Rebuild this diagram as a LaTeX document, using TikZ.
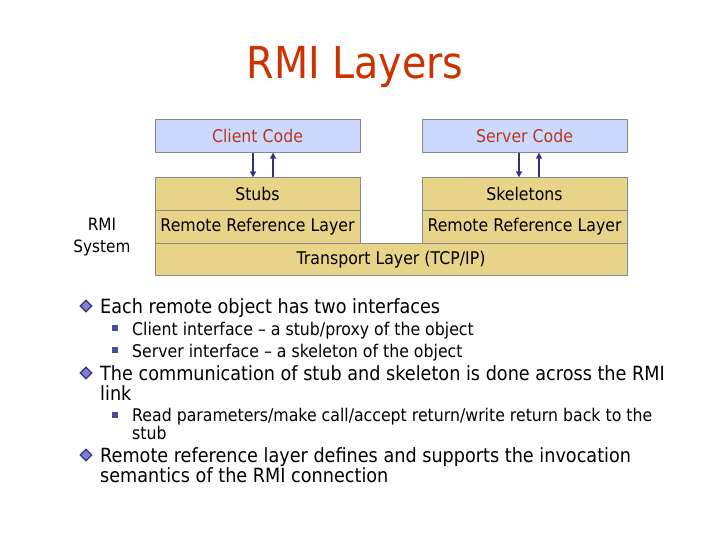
\documentclass[tikz,border=0pt]{standalone}
\usepackage{fontspec}
\setmainfont{DejaVu Sans}[FakeStretch=0.9]
\usetikzlibrary{shapes.geometric,arrows.meta}
\definecolor{titlered}{HTML}{CC3300}
\definecolor{codered}{HTML}{B8371C}
\definecolor{boxblue}{HTML}{CCD9FF}
\definecolor{boxyellow}{HTML}{E8D488}
\definecolor{boxline}{HTML}{8A8A8A}
\definecolor{navy}{HTML}{333380}
\definecolor{bulletnavy}{HTML}{4A4AA0}
\definecolor{gemfill}{HTML}{8080D0}
\tikzset{
  layerbox/.style={draw=boxline, line width=0.8pt, minimum width=205pt, minimum height=32.5pt, inner sep=0pt, font=\fontsize{17.5}{19}\selectfont},
  bluebox/.style={layerbox, fill=boxblue, text=codered},
  yellowbox/.style={layerbox, fill=boxyellow, text=black},
  arr/.style={draw=navy, line width=2pt, -{Triangle[length=6pt,width=6pt]}},
  mainline/.style={anchor=base west, inner sep=0pt, font=\fontsize{19.6}{20}\selectfont},
  subline/.style={anchor=base west, inner sep=0pt, font=\fontsize{17.5}{18}\selectfont},
  dbullet/.style={diamond, draw=navy, line width=1.2pt, fill=gemfill, inner sep=0pt, minimum width=12pt, minimum height=12pt},
  sbullet/.style={rectangle, fill=bulletnavy, inner sep=0pt, minimum width=6pt, minimum height=6pt},
}
\begin{document}
\begin{tikzpicture}[x=1pt,y=-1pt]
\useasboundingbox[fill=white] (0,0) rectangle (720,540);
\node[text=titlered, font=\fontsize{44}{48}\selectfont, inner sep=0pt, anchor=base] (title) at (355,79) {RMI Layers};

\node[bluebox] (client) at (257.5,136) {Client Code};
\node[bluebox] (server) at (524.5,136) {Server Code};
\node[yellowbox] (stubs) at (257.5,194) {Stubs};
\node[yellowbox] (skel) at (524.5,194) {Skeletons};
\node[yellowbox] (rrl1) at (257.5,226.75) {Remote Reference Layer};
\node[yellowbox] (rrl2) at (524.5,226.75) {Remote Reference Layer};
\node[yellowbox, minimum width=472pt] (transport) at (391,259.5) {Transport Layer (TCP/IP)};

\draw[arr] ([xshift=-4.5pt]client.south) -- ([xshift=-4.5pt]stubs.north);
\draw[arr] ([xshift=15.5pt]stubs.north) -- ([xshift=15.5pt]client.south);
\draw[arr] ([xshift=-5.5pt]server.south) -- ([xshift=-5.5pt]skel.north);
\draw[arr] ([xshift=14.5pt]skel.north) -- ([xshift=14.5pt]server.south);

\node[anchor=base, inner sep=0pt, font=\fontsize{17}{18}\selectfont] (rmi1) at (102,230) {RMI};
\node[anchor=base, inner sep=0pt, font=\fontsize{17}{18}\selectfont] (rmi2) at (102,252) {System};

\node[dbullet] (b1) at (86,306) {};
\node[mainline] (t1) at (100,313) {Each remote object has two interfaces};
\node[sbullet] (s1) at (115,328) {};
\node[subline] (t11) at (132,335) {Client interface -- a stub/proxy of the object};
\node[sbullet] (s2) at (115,350) {};
\node[subline] (t12) at (132,357) {Server interface -- a skeleton of the object};
\node[dbullet] (b2) at (86,373) {};
\node[mainline] (t2) at (100,380) {The communication of stub and skeleton is done across the RMI};
\node[mainline] (t2b) at (100,400) {link};
\node[sbullet] (s3) at (115,415) {};
\node[subline] (t21) at (132,421) {Read parameters/make call/accept return/write return back to the};
\node[subline] (t21b) at (132,439) {stub};
\node[dbullet] (b3) at (86,455) {};
\node[mainline] (t3) at (100,462) {Remote reference layer defines and supports the invocation};
\node[mainline] (t3b) at (100,482.5) {semantics of the RMI connection};
\end{tikzpicture}
\end{document}
